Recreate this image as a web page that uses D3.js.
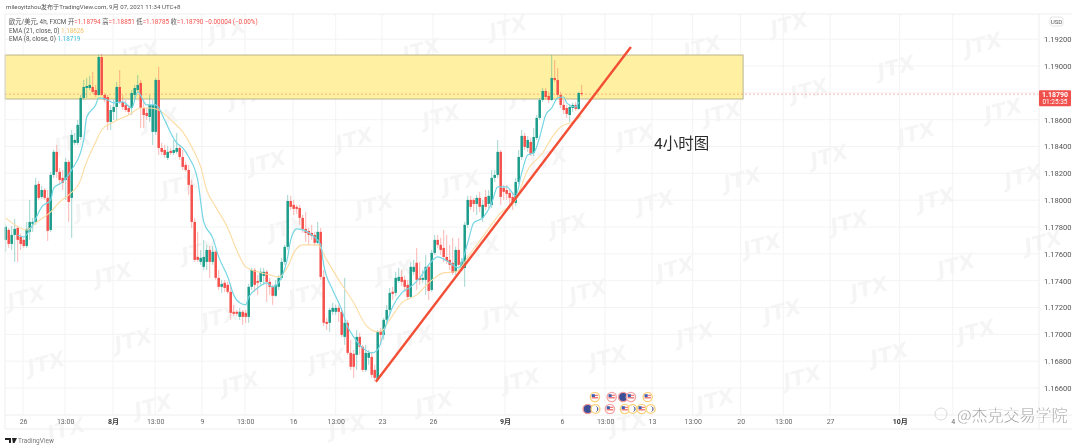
<!DOCTYPE html>
<html><head><meta charset="utf-8">
<script src="https://cdn.jsdelivr.net/npm/d3@7"></script>
<style>html,body{margin:0;padding:0;background:#fff}svg{display:block}
text{font-family:"Roboto","Noto Sans CJK SC",sans-serif}</style></head><body><div id="c"></div>
<script>
const opens=[1.17704,1.17778,1.17674,1.17741,1.17793,1.17726,1.17704,1.17659,1.17764,1.17823,
1.17838,1.18121,1.18024,1.18076,1.18017,1.17778,1.18188,1.18360,1.18211,1.18166,
1.18151,1.18285,1.18017,1.18427,1.18427,1.18471,1.18762,1.18836,1.18836,1.18844,
1.18821,1.18784,1.19067,1.18784,1.18769,1.18583,1.18658,1.18695,1.18844,1.18732,
1.18710,1.18687,1.18687,1.18784,1.18821,1.18874,1.18687,1.18650,1.18620,1.18509,
1.18509,1.18896,1.18389,1.18374,1.18315,1.18367,1.18352,1.18360,1.18389,1.18322,
1.18263,1.18225,1.18114,1.17838,1.17577,1.17540,1.17503,1.17540,1.17629,1.17540,
1.17615,1.17421,1.17354,1.17384,1.17369,1.17317,1.17168,1.17168,1.17130,1.17168,
1.17160,1.17130,1.17354,1.17480,1.17398,1.17391,1.17436,1.17466,1.17391,1.17354,
1.17287,1.17354,1.17421,1.17540,1.17652,1.17994,1.17965,1.17950,1.17942,1.17868,
1.17786,1.17771,1.17756,1.17741,1.17682,1.17764,1.17428,1.17093,1.17086,1.17168,
1.17168,1.17197,1.17168,1.16981,1.17086,1.16862,1.16855,1.16847,1.16981,1.16907,
1.16735,1.16825,1.16832,1.16735,1.16661,1.17026,1.16996,1.17108,1.17182,1.17317,
1.17309,1.17398,1.17428,1.17406,1.17369,1.17279,1.17466,1.17533,1.17421,1.17406,
1.17406,1.17503,1.17331,1.17607,1.17704,1.17667,1.17644,1.17577,1.17555,1.17533,
1.17466,1.17629,1.17495,1.17495,1.17816,1.18002,1.18002,1.17972,1.18017,1.17868,
1.18024,1.17972,1.17965,1.18166,1.18188,1.18360,1.18091,1.18076,1.18054,1.18024,
1.17979,1.18136,1.18322,1.18479,1.18389,1.18434,1.18352,1.18464,1.18613,1.18747,
1.18814,1.18777,1.18747,1.18911,1.18896,1.18784,1.18710,1.18687,1.18635,1.18687,
1.18710,1.18680,1.18799];
const closes=[1.17801,1.17674,1.17741,1.17786,1.17704,1.17674,1.17659,1.17786,1.17838,1.17838,
1.18114,1.18017,1.18076,1.18017,1.17771,1.18188,1.18360,1.18211,1.18151,1.18129,
1.18285,1.17987,1.18486,1.18449,1.18561,1.18762,1.18844,1.18851,1.18859,1.18807,
1.18784,1.19067,1.18784,1.18747,1.18583,1.18672,1.18695,1.18844,1.18732,1.18695,
1.18672,1.18658,1.18799,1.18836,1.18859,1.18687,1.18635,1.18628,1.18710,1.18710,
1.18896,1.18389,1.18360,1.18337,1.18360,1.18352,1.18374,1.18389,1.18322,1.18248,
1.18225,1.18114,1.17838,1.17555,1.17555,1.17570,1.17577,1.17629,1.17540,1.17615,
1.17421,1.17354,1.17376,1.17346,1.17317,1.17160,1.17153,1.17153,1.17168,1.17130,
1.17130,1.17354,1.17480,1.17369,1.17384,1.17466,1.17466,1.17391,1.17354,1.17287,
1.17369,1.17421,1.17540,1.17652,1.17994,1.17950,1.17935,1.17935,1.17868,1.17786,
1.17756,1.17741,1.17734,1.17682,1.17764,1.17428,1.17086,1.17078,1.17182,1.17197,
1.17197,1.17168,1.16996,1.17086,1.16862,1.16758,1.16758,1.16981,1.16907,1.16735,
1.16862,1.16862,1.16698,1.16676,1.17019,1.16996,1.17108,1.17182,1.17309,1.17302,
1.17421,1.17428,1.17391,1.17354,1.17279,1.17503,1.17503,1.17406,1.17406,1.17421,
1.17503,1.17324,1.17607,1.17704,1.17667,1.17629,1.17577,1.17547,1.17518,1.17458,
1.17629,1.17518,1.17540,1.17816,1.18002,1.17950,1.17972,1.18017,1.17950,1.17965,
1.17950,1.18032,1.18166,1.18188,1.18360,1.18024,1.18062,1.18047,1.18017,1.17979,
1.18136,1.18322,1.18479,1.18397,1.18449,1.18345,1.18471,1.18613,1.18747,1.18814,
1.18769,1.18747,1.18911,1.18896,1.18784,1.18710,1.18672,1.18643,1.18695,1.18710,
1.18680,1.18799,1.18792];
const highs=[1.17816,1.17793,1.17808,1.17860,1.17808,1.17749,1.17719,1.17838,1.18002,1.17868,
1.18166,1.18143,1.18106,1.18091,1.18076,1.18211,1.18374,1.18412,1.18240,1.18225,
1.18315,1.18300,1.18523,1.18501,1.18598,1.18784,1.18896,1.18911,1.18926,1.18956,
1.18859,1.19082,1.19090,1.18799,1.18784,1.18710,1.18747,1.18881,1.18970,1.18784,
1.18747,1.18710,1.18821,1.18859,1.18933,1.18896,1.18747,1.18687,1.18784,1.18747,
1.18911,1.18993,1.18427,1.18412,1.18404,1.18389,1.18449,1.18501,1.18412,1.18374,
1.18285,1.18263,1.18151,1.17868,1.17764,1.17629,1.17704,1.17667,1.17659,1.17659,
1.17629,1.17480,1.17406,1.17406,1.17391,1.17369,1.17220,1.17182,1.17197,1.17182,
1.17182,1.17376,1.17495,1.17495,1.17443,1.17495,1.17495,1.17480,1.17421,1.17369,
1.17406,1.17443,1.17570,1.17667,1.18039,1.18032,1.18002,1.17965,1.17965,1.17890,
1.17912,1.17793,1.17816,1.17764,1.17838,1.17793,1.17480,1.17123,1.17197,1.17235,
1.17220,1.17220,1.17197,1.17421,1.17108,1.16959,1.16884,1.17033,1.17011,1.16922,
1.16922,1.16884,1.16870,1.16773,1.17033,1.17048,1.17123,1.17220,1.17346,1.17354,
1.17466,1.17495,1.17480,1.17436,1.17406,1.17540,1.17555,1.17644,1.17540,1.17480,
1.17592,1.17518,1.17629,1.17741,1.17741,1.17719,1.17778,1.17741,1.17667,1.17719,
1.17652,1.17719,1.17570,1.17838,1.18032,1.18032,1.18017,1.18039,1.18062,1.18002,
1.18076,1.18076,1.18225,1.18225,1.18449,1.18374,1.18114,1.18114,1.18076,1.18062,
1.18166,1.18374,1.18523,1.18501,1.18479,1.18464,1.18538,1.18635,1.18762,1.18836,
1.18836,1.18807,1.19082,1.19045,1.18985,1.18807,1.18747,1.18710,1.18710,1.18725,
1.18732,1.18807,1.18859];
const lows=[1.17615,1.17644,1.17629,1.17540,1.17540,1.17629,1.17644,1.17644,1.17704,1.17764,
1.17816,1.18002,1.18009,1.18002,1.17696,1.17764,1.18166,1.18166,1.18114,1.18076,
1.18002,1.17838,1.17719,1.18412,1.18412,1.18449,1.18747,1.18762,1.18821,1.18792,
1.18769,1.18777,1.18777,1.18732,1.18523,1.18523,1.18598,1.18598,1.18717,1.18672,
1.18658,1.18635,1.18635,1.18747,1.18807,1.18538,1.18538,1.18598,1.18583,1.18412,
1.18486,1.18337,1.18337,1.18315,1.18300,1.18337,1.18337,1.18345,1.18300,1.18225,
1.18211,1.18039,1.17793,1.17540,1.17540,1.17518,1.17480,1.17480,1.17421,1.17518,
1.17406,1.17331,1.17309,1.17317,1.17302,1.17108,1.17138,1.17138,1.17108,1.17071,
1.17086,1.17086,1.17331,1.17317,1.17294,1.17369,1.17369,1.17242,1.17294,1.17220,
1.17279,1.17331,1.17406,1.17518,1.17629,1.17927,1.17890,1.17898,1.17816,1.17756,
1.17689,1.17667,1.17704,1.17659,1.17667,1.17406,1.17063,1.17033,1.17019,1.17145,
1.17145,1.17093,1.16981,1.16922,1.16847,1.16735,1.16676,1.16735,1.16847,1.16720,
1.16720,1.16773,1.16676,1.16653,1.16653,1.16922,1.16959,1.17093,1.17145,1.17257,
1.17287,1.17384,1.17361,1.17317,1.17257,1.17272,1.17443,1.17331,1.17369,1.17384,
1.17294,1.17257,1.17317,1.17592,1.17644,1.17592,1.17540,1.17525,1.17480,1.17443,
1.17443,1.17503,1.17480,1.17354,1.17793,1.17927,1.17912,1.17890,1.17912,1.17838,
1.17927,1.17942,1.17942,1.18136,1.18166,1.17965,1.18002,1.18002,1.17965,1.17927,
1.17957,1.18121,1.18300,1.18374,1.18360,1.18330,1.18330,1.18449,1.18598,1.18732,
1.18747,1.18725,1.18739,1.18881,1.18769,1.18687,1.18643,1.18613,1.18583,1.18658,
1.18665,1.18672,1.18777];

const ema8Bars=[4,6,9,12,15,16,19,22,26,27,30,31,34,36,39,42,44,47,50,53,55,57,59,61,64,66,69,71,74,76,78,80,81,84,87,89,92,94,95,97,100,102,105,106,109,111,112,114,116,119,122,124,127,129,132,135,138,141,144,148,151,154,156,159,162,164,167,170,172,174,176,178,180,182,184,186,187,190,191];
const ema8Values=[1.17741,1.17726,1.17816,1.17950,1.18002,1.18091,1.18136,1.18225,1.18449,1.18620,1.18710,1.18762,1.18747,1.18725,1.18732,1.18687,1.18807,1.18710,1.18710,1.18598,1.18501,1.18427,1.18389,1.18322,1.18151,1.17838,1.17719,1.17577,1.17428,1.17294,1.17235,1.17220,1.17279,1.17346,1.17384,1.17354,1.17428,1.17577,1.17704,1.17786,1.17771,1.17741,1.17667,1.17518,1.17331,1.17235,1.17182,1.17056,1.16981,1.16899,1.16862,1.16884,1.17086,1.17205,1.17309,1.17354,1.17421,1.17518,1.17577,1.17533,1.17495,1.17682,1.17831,1.17868,1.17979,1.18099,1.18099,1.18032,1.18203,1.18337,1.18352,1.18471,1.18635,1.18687,1.18762,1.18769,1.18725,1.18695,1.18732];
const ema21Bars=[0,3,7,10,15,18,21,25,26,30,32,36,41,45,48,51,55,59,62,65,67,70,74,77,80,84,88,91,94,96,99,104,107,111,116,120,124,125,128,132,137,141,146,150,155,159,165,170,174,179,182,185,189,192];
const ema21Values=[1.17868,1.17816,1.17778,1.17831,1.17912,1.17987,1.18039,1.18151,1.18225,1.18434,1.18523,1.18583,1.18635,1.18687,1.18687,1.18672,1.18598,1.18509,1.18397,1.18248,1.18076,1.17950,1.17793,1.17629,1.17503,1.17466,1.17443,1.17428,1.17503,1.17607,1.17667,1.17667,1.17555,1.17406,1.17235,1.17071,1.17019,1.17019,1.17108,1.17235,1.17294,1.17384,1.17458,1.17466,1.17607,1.17726,1.17905,1.18002,1.18225,1.18352,1.18464,1.18546,1.18583,1.18628];

const priceTicks=[1.192,1.190,1.188,1.186,1.184,1.182,1.180,1.178,1.176,1.174,1.172,1.170,1.168,1.166];
const priceLabels=[1.192,1.190,1.186,1.184,1.182,1.180,1.178,1.176,1.174,1.172,1.170,1.168,1.166];
const timeTickBars=[5.8,19.8,35.8,49.8,65.4,79.8,95.8,110,125.4,142.4,166.4,185.4,199.8,215.4,229,245,259.2,274.8,298,315.7];
const timeTickLabels=["26","13:00","8月","13:00","9","13:00","16","13:00","23","26","9月","6","13:00","13","13:00","20","13:00","27","10月","4"];
const zoneBars=[-0.2,245.8], zonePrices=[1.19082,1.18754];
const trendBars=[123.4,208.4], trendPrices=[1.16646,1.19142];
const lastPrice=1.18790;
const eventBars=[196.4,202,205.8,208.4,214,194,196.6,201.4,206.4,209,212,215];
const eventRows=[0,0,0,0,0,1,1,1,1,1,1,1];
const eventKinds=["us","us","fed","us","us","fed","moon","us","us","moon","us","moon"];

const W=1080,H=448,n=opens.length;
const x=d3.scaleLinear().domain([0,n-1]).range([5.7,581.7]);
const y=d3.scaleLinear().domain([1.166,1.192]).range([388,39.17]);
const svg=d3.select("#c").append("svg").attr("width",W).attr("height",H).style("filter","blur(0.5px)");
const up="#1c9c8a",dn="#f6504c";

// watermark lattice
const wm=svg.append("g");
for(let a=-4;a<=11;a++)for(let b=-5;b<=3;b++){
  const px=220+87*a+20*b,py=317-23*a+66*b;
  if(px<24||px>1056||py<14||py>438)continue;
  wm.append("text").attr("transform",`translate(${px},${py}) rotate(-15)`).attr("text-anchor","middle")
    .attr("dy","0.35em").attr("font-size",21).attr("font-weight",700).attr("font-style","italic")
    .attr("fill","#000").attr("fill-opacity",0.04).style("font-family","'DejaVu Sans'").text("JTX");
}

// frame + grid
const yAxis=d3.axisRight(y).tickValues(priceLabels).tickFormat(d3.format(".5f")).tickSize(0).tickPadding(5);
const xAxis=d3.axisBottom(x).tickValues(timeTickBars).tickFormat((d,i)=>timeTickLabels[i]).tickSize(0).tickPadding(4);
const grid=svg.append("g").attr("stroke","#f3f3f3").attr("stroke-width",1);
grid.selectAll("line.h").data(priceTicks).join("line").attr("x1",5).attr("x2",1039).attr("y1",d=>y(d)).attr("y2",d=>y(d));
grid.selectAll("line.v").data(timeTickBars).join("line").attr("x1",d=>x(d)).attr("x2",d=>x(d)).attr("y1",14).attr("y2",415);

// zone
svg.append("rect").attr("x",x(zoneBars[0])).attr("width",x(zoneBars[1])-x(zoneBars[0]))
  .attr("y",y(zonePrices[0])).attr("height",y(zonePrices[1])-y(zonePrices[0]))
  .attr("fill","#fff09c").attr("fill-opacity",0.95).attr("stroke","#b9b48c").attr("stroke-width",1);

// last price line
svg.append("line").attr("x1",5).attr("x2",1040).attr("y1",y(lastPrice)).attr("y2",y(lastPrice))
  .attr("stroke",dn).attr("stroke-opacity",0.5).attr("stroke-width",0.8).attr("stroke-dasharray","2 2");

// candles
const idx=d3.range(n);
svg.append("g").selectAll("line").data(idx).join("line")
  .attr("x1",i=>x(i)).attr("x2",i=>x(i)).attr("y1",i=>y(highs[i])).attr("y2",i=>y(lows[i]))
  .attr("stroke",i=>closes[i]>=opens[i]?up:dn).attr("stroke-opacity",0.42).attr("stroke-width",1);
svg.append("g").selectAll("rect").data(idx).join("rect")
  .attr("x",i=>x(i)-1.25).attr("width",2.5)
  .attr("y",i=>y(Math.max(opens[i],closes[i])))
  .attr("height",i=>Math.max(1,Math.abs(y(opens[i])-y(closes[i]))))
  .attr("fill",i=>closes[i]>=opens[i]?up:dn);

// EMAs
const line=d3.line().x(d=>x(d[0])).y(d=>y(d[1])).curve(d3.curveMonotoneX);
svg.append("path").attr("d",line(d3.zip(ema21Bars,ema21Values))).attr("fill","none").attr("stroke","#fcdca2").attr("stroke-width",1.1);
svg.append("path").attr("d",line(d3.zip(ema8Bars,ema8Values))).attr("fill","none").attr("stroke","#74d6e4").attr("stroke-width",1.2);

// trend line
svg.append("line").attr("x1",x(trendBars[0])).attr("x2",x(trendBars[1])).attr("y1",y(trendPrices[0])).attr("y2",y(trendPrices[1]))
  .attr("stroke","#f24f36").attr("stroke-width",2.4);

// events
const evG=svg.append("g");
eventBars.forEach((b,i)=>{
  const cx=x(b),cy=397+12*eventRows[i],k=eventKinds[i];
  if(k==="moon"){evG.append("circle").attr("cx",cx).attr("cy",cy).attr("r",4.4).attr("fill","#fff").attr("stroke","#fbd27c").attr("stroke-width",1.4);
    evG.append("path").attr("d",`M${cx+1},${cy-2.5}A3,3 0 0 1 ${cx+1},${cy+2.5}`).attr("fill","none").attr("stroke","#333c78").attr("stroke-width",1);return;}
  if(k==="fed"){evG.append("circle").attr("cx",cx).attr("cy",cy).attr("r",4.6).attr("fill","#3d4f96").attr("stroke","#f29a9a").attr("stroke-width",1.4);return;}
  evG.append("circle").attr("cx",cx).attr("cy",cy).attr("r",4.6).attr("fill","#fff").attr("stroke",i%2?"#f5a5a5":"#fbd27c").attr("stroke-width",1.4);
  evG.append("rect").attr("x",cx-3.2).attr("y",cy-2.8).attr("width",3.2).attr("height",2.8).attr("fill","#3f5fae");
  evG.append("rect").attr("x",cx-3.2).attr("y",cy+0.2).attr("width",6.4).attr("height",1.2).attr("fill","#ee5a5a");
  evG.append("rect").attr("x",cx).attr("y",cy-2.2).attr("width",3.2).attr("height",1).attr("fill","#ee5a5a");
});

// axes
const gy=svg.append("g").attr("transform","translate(1039,0)").call(yAxis);
gy.select(".domain").attr("stroke","#eee").attr("d","M0,14V429");
gy.selectAll("text").attr("fill","#555").attr("font-size",7.6).style("font-family","Roboto");
const gx=svg.append("g").attr("transform","translate(0,415)").call(xAxis);
gx.select(".domain").attr("stroke","#eee").attr("d","M5,0H1072");
gx.selectAll("text").attr("fill",(d,i)=>/月/.test(timeTickLabels[i])?"#333":"#666").attr("font-size",7)
  .attr("font-weight",(d,i)=>/月/.test(timeTickLabels[i])?700:400).style("font-family","Roboto,'Noto Sans CJK SC'");
svg.append("line").attr("x1",5).attr("x2",1072).attr("y1",429).attr("y2",429).attr("stroke","#eee");
svg.append("line").attr("x1",5).attr("x2",5).attr("y1",14).attr("y2",429).attr("stroke","#eee");
svg.append("line").attr("x1",5).attr("x2",1072).attr("y1",14).attr("y2",14).attr("stroke","#eee");

// price tag
const tagY=y(lastPrice);
svg.append("rect").attr("x",1039).attr("y",tagY-4).attr("width",32).attr("height",16).attr("rx",1).attr("fill","#f0504c");
svg.append("text").attr("x",1055).attr("y",tagY+2.5).attr("text-anchor","middle").attr("font-size",7).attr("font-weight",700).attr("fill","#fff").text("1.18790");
svg.append("text").attr("x",1055).attr("y",tagY+9.5).attr("text-anchor","middle").attr("font-size",6.5).attr("fill","#fff").text("01:25:35");

// USD
svg.append("rect").attr("x",1050).attr("y",17).attr("width",13).attr("height",9).attr("rx",2.5).attr("fill","#fff").attr("stroke","#ddd").attr("stroke-width",0.8);
svg.append("text").attr("x",1056.5).attr("y",24).attr("text-anchor","middle").attr("font-size",6.2).attr("fill","#555").text("USD");

// headers
svg.append("text").attr("x",6).attr("y",9).attr("font-size",6.15).attr("fill","#555").text("mileoyitzhou发布于TradingView.com, 9月 07, 2021 11:34 UTC+8");
const h=svg.append("text").attr("x",9).attr("y",23.5).attr("font-size",6.3).attr("fill","#555");
h.append("tspan").text("欧元/美元, 4h, FXCM  ");
h.append("tspan").text("开");h.append("tspan").attr("fill",dn).text("=1.18794 ");
h.append("tspan").text("高");h.append("tspan").attr("fill",dn).text("=1.18851 ");
h.append("tspan").text("低");h.append("tspan").attr("fill",dn).text("=1.18785 ");
h.append("tspan").text("收");h.append("tspan").attr("fill",dn).text("=1.18790  −0.00004 (−0.00%)");
const e1=svg.append("text").attr("x",9).attr("y",32.5).attr("font-size",6.3).attr("fill","#555");
e1.append("tspan").text("EMA (21, close, 0)  ");e1.append("tspan").attr("fill","#f4bf62").text("1.18626");
const e2=svg.append("text").attr("x",9).attr("y",41).attr("font-size",6.3).attr("fill","#555");
e2.append("tspan").text("EMA (8, close, 0)  ");e2.append("tspan").attr("fill","#3cbcd4").text("1.18719");

// annotation
svg.append("text").attr("x",654).attr("y",149).attr("font-size",15.5).attr("fill","#2b2b2b").text("4小时图");

// TradingView logo
svg.append("path").attr("d","M5,438h6v5h-2v-3h-4zM12,438h5l-2.5,5h-1.6z").attr("fill","#222");
svg.append("text").attr("x",18).attr("y",443).attr("font-size",6.5).attr("fill","#777").text("TradingView");

// account mark
svg.append("circle").attr("cx",941).attr("cy",414).attr("r",6).attr("fill","none").attr("stroke","#d8d8d8").attr("stroke-width",1);
svg.append("text").attr("x",957).attr("y",421).attr("font-size",16).attr("font-weight",300).attr("fill","#666").attr("stroke","#fff").attr("stroke-width",0.3).style("font-family","'Noto Sans CJK SC'").text("@杰克交易学院");
</script></body></html>
